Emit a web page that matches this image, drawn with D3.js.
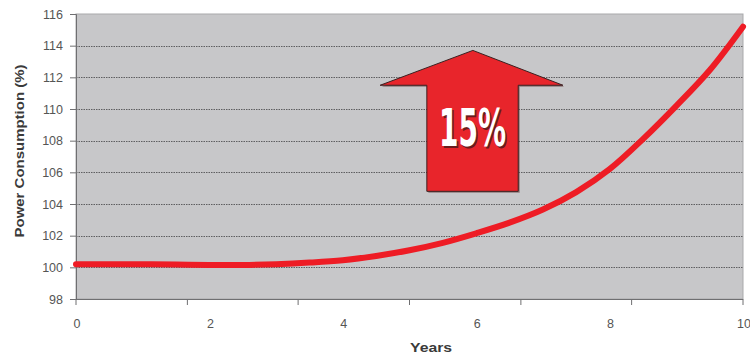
<!DOCTYPE html>
<html><head><meta charset="utf-8">
<script src="https://cdn.jsdelivr.net/npm/d3@7"></script>
<style>
body{margin:0;background:#fff;}
svg{display:block;}
</style></head>
<body>
<svg id="chart" width="750" height="354"></svg>
<script>
// ---- data ----
const years = [0,0.5,1,1.5,2,2.5,3,3.5,4,4.5,5,5.5,6,6.5,7,7.5,8,8.5,9,9.5,10];
const power = [100.2,100.2,100.2,100.18,100.15,100.15,100.2,100.3,100.45,100.72,101.08,101.55,102.15,102.82,103.65,104.75,106.2,108.1,110.2,112.45,115.2];
const yTicks = [98,100,102,104,106,108,110,112,114,116];
const xTickLabels = [0,2,4,6,8,10];
const xTickMarks = [0,1.67,3.33,5,6.67,8.33,10];
const gridValues = [100,102,104,106,108,110,112,114];
// arrow annotation in data units: [year, value]
const arrowPts = [[5.95,113.7],[7.3,111.5],[6.63,111.5],[6.63,104.8],[5.26,104.8],[5.26,111.5],[4.56,111.5]];
const arrowLabel = "15%";
const xTitle = "Years";
const yTitle = "Power Consumption (%)";

// ---- layout ----
const svg = d3.select("#chart");
const pL = 76, pR = 743, pT = 14, pB = 299;
const x = d3.scaleLinear().domain([0,10]).range([pL,pR]);
const y = d3.scaleLinear().domain([98,116]).range([pB,pT]);
const FONT = "Liberation Sans, Arial, sans-serif";

// plot background
svg.append("rect").attr("x",pL).attr("y",pT).attr("width",pR-pL).attr("height",pB-pT)
  .attr("fill","#c7c7c9").attr("stroke","#a9a9ab").attr("stroke-width",1);

// gridlines
svg.append("g").selectAll("line").data(gridValues).join("line")
  .attr("x1",pL).attr("x2",pR)
  .attr("y1",d=>Math.round(y(d))+0.5).attr("y2",d=>Math.round(y(d))+0.5)
  .attr("stroke","#5e5e60").attr("stroke-width",1.1).attr("stroke-dasharray","1.5,1");

// y axis
const yAxis = d3.axisLeft(y).tickValues(yTicks).tickSize(6).tickPadding(7).tickFormat(d3.format("d"));
const gy = svg.append("g").attr("transform",`translate(${pL},0)`).call(yAxis);
gy.select(".domain").attr("stroke","#6f6f71");
gy.selectAll(".tick line").attr("stroke","#6f6f71");
gy.selectAll("text").attr("fill","#555").attr("font-family",FONT).attr("font-size",12.5);

// x axis: tick marks (6 divisions) and labels 0..10
const gx = svg.append("g").attr("transform",`translate(0,${pB})`);
gx.append("line").attr("x1",pL).attr("x2",pR).attr("y1",0.5).attr("y2",0.5).attr("stroke","#6f6f71");
gx.selectAll("line.tm").data(xTickMarks).join("line").attr("class","tm")
  .attr("x1",d=>x(d)).attr("x2",d=>x(d)).attr("y1",0).attr("y2",6).attr("stroke","#6f6f71");
gx.selectAll("text").data(xTickLabels).join("text")
  .attr("x",d=>x(d)+1).attr("y",29).attr("text-anchor","middle")
  .attr("fill","#555").attr("font-family",FONT).attr("font-size",12.5)
  .text(d=>d);

// axis titles
svg.append("text").attr("x",431).attr("y",352).attr("text-anchor","middle")
  .attr("font-family",FONT).attr("font-weight","bold").attr("font-size",13)
  .attr("textLength",42).attr("lengthAdjust","spacingAndGlyphs")
  .attr("fill","#3a3a3a").text(xTitle);
svg.append("text").attr("transform","translate(24,151) rotate(-90)").attr("text-anchor","middle")
  .attr("font-family",FONT).attr("font-weight","bold").attr("font-size",12.5)
  .attr("textLength",173).attr("lengthAdjust","spacingAndGlyphs")
  .attr("fill","#3a3a3a").text(yTitle);

// arrow annotation
const arrowLine = d3.line().x(d=>x(d[0])).y(d=>y(d[1]));
svg.append("path").attr("d",arrowLine(arrowPts)+"Z")
  .attr("fill","#6b4a4a").attr("transform","translate(1.5,1.5)").attr("opacity",0.6);
svg.append("path").attr("d",arrowLine(arrowPts)+"Z")
  .attr("fill","#e8252b").attr("stroke","#3b2020").attr("stroke-width",1).attr("stroke-linejoin","miter");
const cx = x((arrowPts[3][0]+arrowPts[4][0])/2);
svg.append("text").attr("x",cx+1.5).attr("y",147.5).attr("text-anchor","middle")
  .attr("font-family","Liberation Sans Narrow, DejaVu Sans Condensed, Arial Narrow, sans-serif")
  .attr("font-weight","bold").attr("font-size",51).attr("fill","#4a1a1a").attr("opacity",0.8)
  .attr("textLength",67).attr("lengthAdjust","spacingAndGlyphs").text(arrowLabel);
svg.append("text").attr("x",cx).attr("y",146).attr("text-anchor","middle")
  .attr("font-family","Liberation Sans Narrow, DejaVu Sans Condensed, Arial Narrow, sans-serif")
  .attr("font-weight","bold").attr("font-size",51).attr("fill","#ffffff")
  .attr("textLength",67).attr("lengthAdjust","spacingAndGlyphs").text(arrowLabel);

// curve
const line = d3.line().x((d,i)=>x(years[i])).y(d=>y(d)).curve(d3.curveCatmullRom.alpha(0.5));
svg.append("path").attr("d",line(power)).attr("fill","none")
  .attr("stroke","#ee1c25").attr("stroke-width",6).attr("stroke-linecap","round");
</script>
</body></html>
